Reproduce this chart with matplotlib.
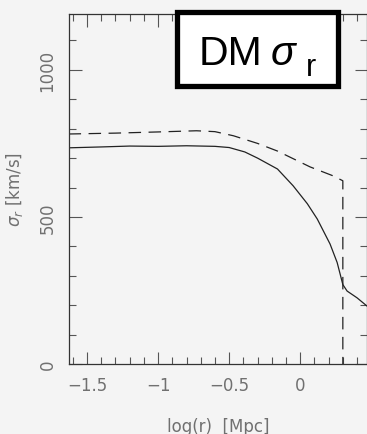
import matplotlib
matplotlib.use("Agg")
import matplotlib.pyplot as plt
from matplotlib.patches import Rectangle
from matplotlib.ticker import MultipleLocator

# solid curve: DM sigma_r profile
logr_solid = [-1.63, -1.4, -1.2, -1.0, -0.8, -0.6, -0.5, -0.39, -0.3, -0.16, -0.05,
              0.05, 0.12, 0.21, 0.26, 0.30, 0.33, 0.40, 0.47]
sigma_solid = [735, 738, 741, 740, 742, 740, 736, 721, 700, 663, 606,
               545, 493, 408, 345, 270, 248, 225, 197]

# dashed curve
logr_dash = [-1.63, -1.3, -1.0, -0.73, -0.6, -0.47, -0.3, -0.16, 0.07, 0.23, 0.30, 0.30]
sigma_dash = [782, 785, 789, 793, 790, 776, 750, 724, 670, 640, 623, 0]

bg = "#f4f4f4"
grey = "#707070"

fig = plt.figure(figsize=(3.67, 4.35), dpi=100, facecolor=bg)
ax = fig.add_axes([69/367, 70/435, 298/367, 350/435], facecolor=bg)

ax.plot(logr_solid, sigma_solid, color="#222222", lw=0.9)
ax.plot(logr_dash, sigma_dash, color="#222222", lw=0.9, dashes=(10, 6))

ax.set_xlim(-1.627, 0.47)
ax.set_ylim(0, 1190)

ax.xaxis.set_major_locator(MultipleLocator(0.5))
ax.xaxis.set_minor_locator(MultipleLocator(0.1))
ax.yaxis.set_major_locator(MultipleLocator(500))
ax.yaxis.set_minor_locator(MultipleLocator(100))
ax.set_xticks([-1.5, -1, -0.5, 0])
ax.set_xticklabels(["\u22121.5", "\u22121", "\u22120.5", "0"])
ax.set_yticks([0, 500, 1000])
ax.set_yticklabels(["0", "500", "1000"], rotation=90, va="center")

ax.tick_params(which="both", direction="in", top=True, right=True,
               colors="#555555", labelcolor=grey, labelsize=12, width=0.8)
ax.tick_params(which="major", length=9, pad=9)
ax.tick_params(which="minor", length=5)
for sp in ax.spines.values():
    sp.set_color("#333333")
    sp.set_linewidth(0.9)

ax.set_xlabel("log(r)  [Mpc]", color=grey, fontsize=12, labelpad=16)
ax.set_ylabel(r"$\sigma_r$ [km/s]", color=grey, fontsize=12, labelpad=10)

# label box in the top corner
box = Rectangle((176.5/367, 1 - 86.5/435), 161/367, 74/435, transform=fig.transFigure,
                facecolor="white", edgecolor="black", lw=3.8, zorder=5)
fig.patches.append(box)
fig.text(199/367, 1 - 65/435, "DM", fontsize=29.5, family="Liberation Sans",
         ha="left", va="baseline", zorder=6)
fig.text(271/367, 1 - 65/435, "\u03c3", fontsize=29.5, family="Liberation Sans",
         style="italic", ha="left", va="baseline", zorder=6)
fig.text(306/367, 1 - 76/435, "r", fontsize=22, family="Liberation Sans",
         ha="left", va="baseline", zorder=6)

fig.savefig("out.png", dpi=100, facecolor=bg)
